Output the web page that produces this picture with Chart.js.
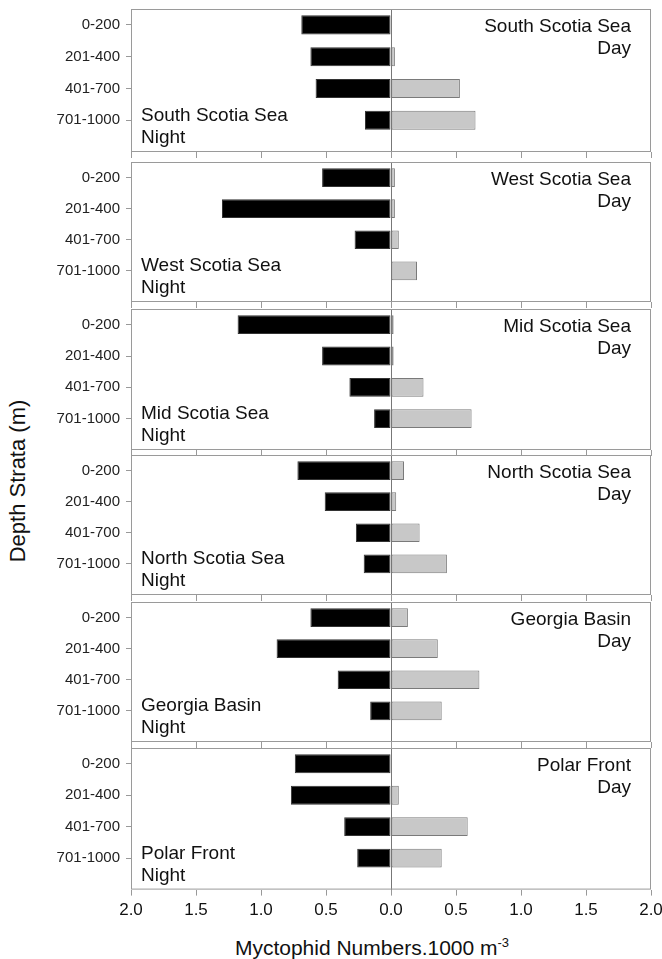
<!DOCTYPE html>
<html>
<head>
<meta charset="utf-8">
<script src="https://cdn.jsdelivr.net/npm/chart.js@4.4.1/dist/chart.umd.min.js"></script>
<style>
  body { margin: 0; background: #fff; }
  #wrap { position: relative; width: 662px; height: 959px; overflow: hidden; }
  #wrap canvas { position: absolute; left: 0; }
  .axis-title {
    position: absolute; transform: translate(-50%, -50%);
    font: 22px "Liberation Sans", Arial, sans-serif; color: #111; white-space: nowrap;
  }
  #ytitle { left: 18px; top: 481px; transform: translate(-50%, -50%) rotate(-90deg); }
  #xtitle { left: 372px; top: 947px; font-size: 21px; }
</style>
</head>
<body>
<div id="wrap">
  <div id="ytitle" class="axis-title">Depth Strata (m)</div>
  <div id="xtitle" class="axis-title">Myctophid Numbers.1000 m<sup style="font-size:13px">-3</sup></div>
</div>
<script>
// ---------------------------------------------------------
// Data, values in numbers per 1000 m3
// ---------------------------------------------------------
const depths = ["0-200", "201-400", "401-700", "701-1000"];
const regions = ["South Scotia Sea", "West Scotia Sea", "Mid Scotia Sea",
                 "North Scotia Sea", "Georgia Basin", "Polar Front"];

const southNight = [0.69, 0.62, 0.58, 0.20];
const southDay   = [0.00, 0.03, 0.53, 0.65];
const westNight  = [0.53, 1.30, 0.28, 0.00];
const westDay    = [0.03, 0.03, 0.06, 0.20];
const midNight   = [1.18, 0.53, 0.32, 0.13];
const midDay     = [0.02, 0.02, 0.25, 0.62];
const northNight = [0.72, 0.51, 0.27, 0.21];
const northDay   = [0.10, 0.04, 0.22, 0.43];
const georgiaNight = [0.62, 0.88, 0.41, 0.16];
const georgiaDay   = [0.13, 0.36, 0.68, 0.39];
const polarNight = [0.74, 0.77, 0.36, 0.26];
const polarDay   = [0.00, 0.06, 0.59, 0.39];

const nightSeries = [southNight, westNight, midNight, northNight, georgiaNight, polarNight];
const daySeries   = [southDay, westDay, midDay, northDay, georgiaDay, polarDay];

const xMin = -2, xMax = 2, xStep = 0.5;

// ---------------------------------------------------------
// Layout of the six stacked panels (page pixels)
// ---------------------------------------------------------
const panelTop    = [9, 162, 309, 455, 602, 748];
const panelBottom = [152, 302, 450, 595, 742, 889];
const plotLeft = 131, padRight = 11, padTop = 10;
const FONT = '"Liberation Sans", Arial, sans-serif';

// frame + region labels drawn on each panel
const panelText = {
  id: "panelText",
  afterDraw(chart, args, opts) {
    const { ctx, chartArea: a } = chart;
    ctx.save();
    ctx.strokeStyle = "#9a9a9a";
    ctx.lineWidth = 1;
    ctx.strokeRect(a.left + 0.5, a.top + 0.5, a.right - a.left - 1, a.bottom - a.top - 1);
    ctx.font = "19px " + FONT;
    ctx.fillStyle = "#111";
    ctx.textAlign = "right";
    ctx.fillText(opts.region, a.right - 20, a.top + 23);
    ctx.fillText("Day", a.right - 20, a.top + 45);
    ctx.textAlign = "left";
    ctx.fillText(opts.region, a.left + 10, a.bottom - 31);
    ctx.fillText("Night", a.left + 10, a.bottom - 9);
    ctx.restore();
  }
};

const wrap = document.getElementById("wrap");

regions.forEach((region, p) => {
  const last = p === regions.length - 1;
  const canvas = document.createElement("canvas");
  const top = panelTop[p] - padTop;
  const height = panelBottom[p] - panelTop[p] + padTop + (last ? 37 : 8);
  canvas.width = 662;
  canvas.height = height;
  canvas.style.top = top + "px";
  wrap.appendChild(canvas);

  new Chart(canvas, {
    type: "bar",
    data: {
      datasets: [{
        label: "Night",
        data: nightSeries[p].map((v, i) => ({ x: -v, y: i })),
        backgroundColor: "#000",
        borderColor: "#333",
        borderWidth: 1,
        borderSkipped: false,
        grouped: false,
        barPercentage: 0.6,
        categoryPercentage: 1
      }, {
        label: "Day",
        data: daySeries[p].map((v, i) => ({ x: v, y: i })),
        backgroundColor: "#c8c8c8",
        borderColor: "#7a7a7a",
        borderWidth: 1,
        borderSkipped: false,
        grouped: false,
        barPercentage: 0.6,
        categoryPercentage: 1
      }]
    },
    options: {
      indexAxis: "y",
      responsive: false,
      animation: false,
      layout: { padding: { left: 0, right: padRight, top: padTop, bottom: last ? 0 : 2 } },
      plugins: {
        legend: { display: false },
        tooltip: { enabled: false },
        panelText: { region: region }
      },
      scales: {
        x: {
          type: "linear",
          min: xMin, max: xMax,
          border: { display: false },
          grid: {
            drawOnChartArea: true,
            color: c => (c.tick && c.tick.value === 0 ? "#777" : "rgba(0,0,0,0)"),
            tickColor: "#999",
            tickLength: 6
          },
          // keep every panel the same width, whether its labels show or not
          afterFit: s => { s.paddingLeft = 0; s.paddingRight = 0; },
          ticks: {
            display: last,
            stepSize: xStep,
            color: "#111",
            font: { family: FONT, size: 17 },
            padding: 5,
            maxRotation: 0,
            callback: v => Math.abs(v).toFixed(1)
          }
        },
        y: {
          type: "linear",
          reverse: true,
          offset: false,
          min: -0.5, max: 4.0,
          border: { display: false },
          grid: { offset: false, drawOnChartArea: false, tickColor: "#999", tickLength: 5 },
          afterBuildTicks: s => { s.ticks = depths.map((d, i) => ({ value: i })); },
          afterFit: s => { s.width = plotLeft; s.paddingTop = 0; s.paddingBottom = 0; },
          ticks: {
            color: "#222",
            padding: 6,
            font: { family: FONT, size: 15 },
            callback: v => depths[v] !== undefined ? depths[v] : ""
          }
        }
      }
    },
    plugins: [panelText]
  });
});
</script>
</body>
</html>
